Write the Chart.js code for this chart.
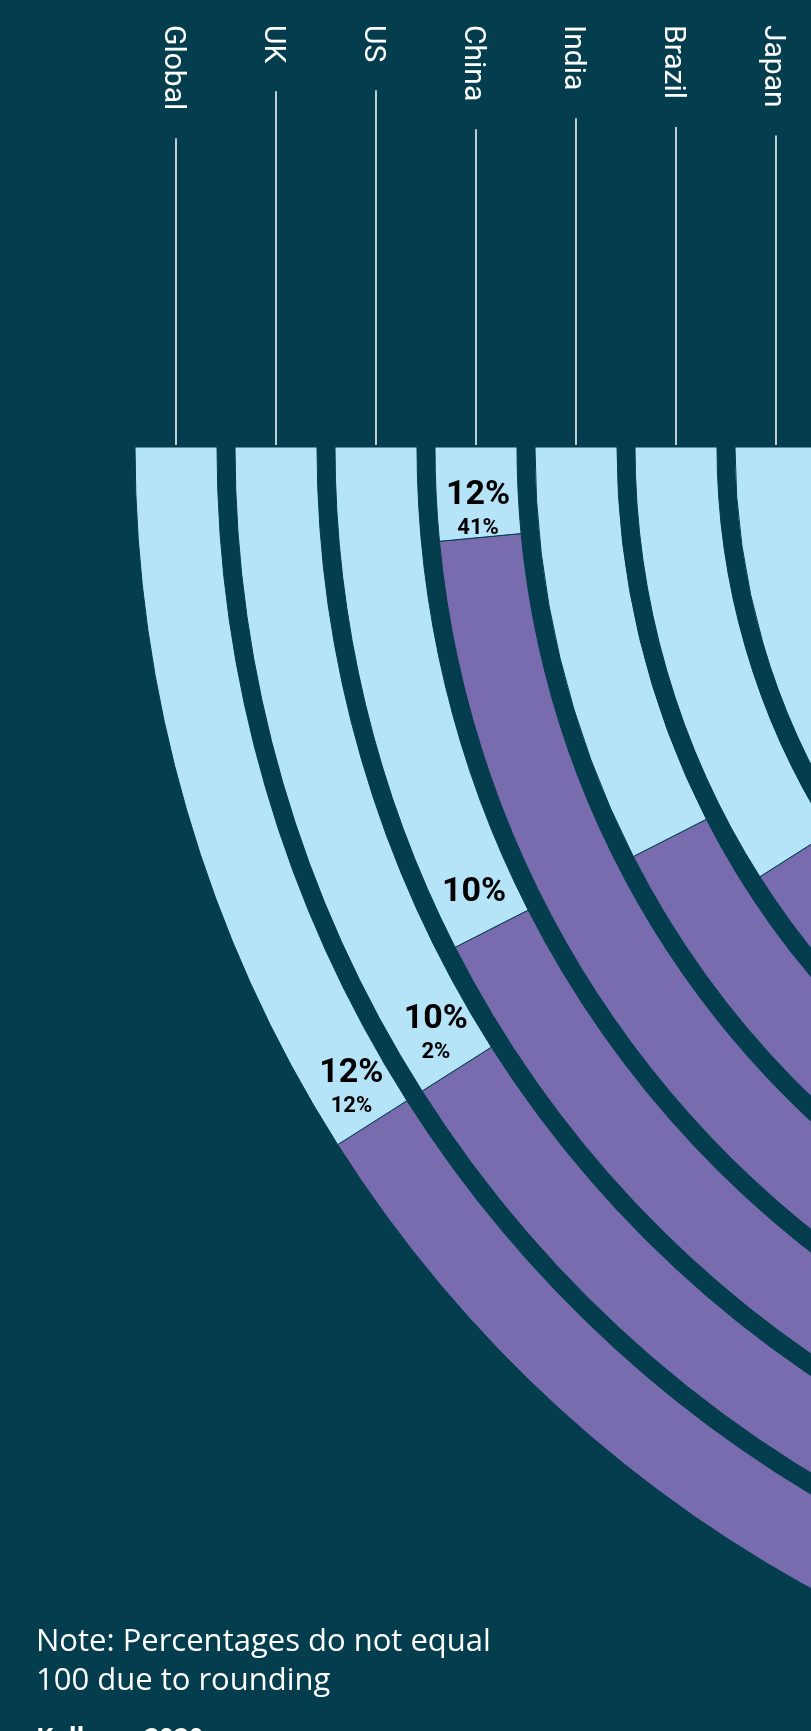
<!DOCTYPE html>
<html>
<head>
<meta charset="utf-8">
<script src="https://cdn.jsdelivr.net/npm/chart.js@4.4.0/dist/chart.umd.min.js"></script>
<style>
  html, body { margin: 0; padding: 0; background: #033d4e; overflow: hidden; }
  #wrap { position: relative; width: 811px; height: 1731px; overflow: hidden; background: #033d4e; }
  #rings { position: absolute; left: 0; top: -990px; }
  .note { position: absolute; left: 36px; top: 1620px; color: #fff; font-family: 'Open Sans', sans-serif; font-size: 31px; line-height: 39px; }
  .source { position: absolute; left: 36px; top: 1724px; color: #fff; font-family: 'Open Sans', sans-serif; font-weight: bold; font-size: 26px; line-height: 26px; }
</style>
</head>
<body>
<div id="wrap">
  <canvas id="rings" width="2874" height="2874"></canvas>
  <div class="note">Note: Percentages do not equal<br>100 due to rounding</div>
  <div class="source">Kellogg, 2020</div>
</div>
<script>
// rings, outermost first; each ring = 100% over three quarters of a turn
const countries = ['Global', 'UK', 'US', 'China', 'India', 'Brazil', 'Japan'];
const lightShare = [12, 12, 10, 2, 10, 12, 12];
const purpleShare = [45, 50, 48, 41, 52, 47, 50];
const otherShare = [43, 38, 42, 57, 38, 41, 38];
const mainLabels = ['12%', '10%', '10%', '12%', null, null, null];
const subLabels = ['12%', '2%', null, '41%', null, null, null];

const BG = '#033d4e';
const LIGHT = '#b5e4f9';
const PURPLE = '#796cae';
const OTHER = '#2f8fb0';
const CANVAS_TOP = -990;   // page offset of the canvas

const datasets = [];
countries.forEach((name, i) => {
    datasets.push({
        label: name,
        ringIndex: i,
        data: [otherShare[i], purpleShare[i], lightShare[i]],
        backgroundColor: [OTHER, PURPLE, LIGHT],
        borderColor: BG,
        borderWidth: 1,
        weight: 82
    });
    if (i < countries.length - 1) {
        // dark gap between rings
        datasets.push({ label: '', data: [1], backgroundColor: 'rgba(0,0,0,0)', borderWidth: 0, weight: 18 });
    }
});

const ringLabels = {
    id: 'ringLabels',
    afterDatasetsDraw(chart) {
        const ctx = chart.ctx;
        chart.data.datasets.forEach((ds, di) => {
            if (ds.ringIndex === undefined) return;
            const i = ds.ringIndex;
            const arc = chart.getDatasetMeta(di).data[2];
            const p = arc.getProps(['x', 'y', 'startAngle', 'endAngle', 'innerRadius', 'outerRadius']);
            const rMid = (p.innerRadius + p.outerRadius) / 2;

            // country name, rotated, with leader line down to the ring
            const lx = p.x - rMid;
            const top = 25 - CANVAS_TOP;
            ctx.save();
            ctx.font = '30px Roboto';
            const w = ctx.measureText(countries[i]).width;
            ctx.translate(lx, top);
            ctx.rotate(Math.PI / 2);
            ctx.fillStyle = '#ffffff';
            ctx.textAlign = 'left';
            ctx.textBaseline = 'alphabetic';
            ctx.fillText(countries[i], 0, 10.5);
            ctx.restore();

            ctx.save();
            ctx.strokeStyle = '#ffffff';
            ctx.lineWidth = 1.5;
            ctx.beginPath();
            ctx.moveTo(lx, top + w + 28);
            ctx.lineTo(lx, p.y - 2);
            ctx.stroke();
            ctx.restore();

            // percentage labels near the end of the light segment
            if (!mainLabels[i]) return;
            const len = rMid * (p.endAngle - p.startAngle);
            const s = Math.min(40, len * 0.3);
            const a = p.startAngle + s / rMid;
            const ax = p.x + rMid * Math.cos(a);
            const ay = p.y + rMid * Math.sin(a);
            ctx.save();
            ctx.fillStyle = '#000000';
            ctx.textAlign = 'center';
            ctx.textBaseline = 'middle';
            ctx.font = 'bold 34px Roboto';
            ctx.fillText(mainLabels[i], ax, subLabels[i] ? ay - 15 : ay);
            if (subLabels[i]) {
                ctx.font = 'bold 22px Roboto';
                ctx.fillText(subLabels[i], ax, ay + 18);
            }
            ctx.restore();
        });
    }
};

new Chart(document.getElementById('rings'), {
    type: 'doughnut',
    data: {
        labels: ['Other', 'Purple', 'Light'],
        datasets: datasets
    },
    options: {
        responsive: false,
        animation: false,
        events: [],
        radius: 1302,
        cutout: '47.62%',
        rotation: 0,
        circumference: 270,
        plugins: {
            legend: { display: false },
            tooltip: { enabled: false }
        }
    },
    plugins: [ringLabels]
});
</script>
</body>
</html>
